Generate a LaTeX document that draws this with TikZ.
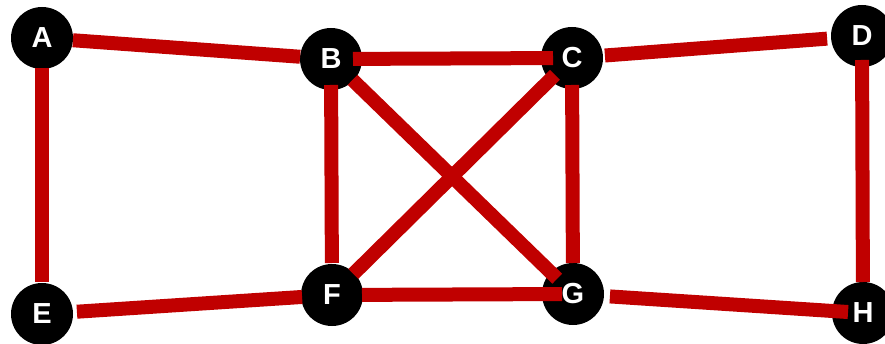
\documentclass[tikz,border=0pt]{standalone}
\usepackage{fontspec}
\setmainfont{Liberation Sans}
\definecolor{edgered}{RGB}{192,0,0}
\begin{document}
\begin{tikzpicture}[x=1pt,y=-1pt,
  vtx/.style={circle,fill=black,minimum size=62pt,inner sep=0pt},
  lbl/.style={text=white,font=\fontsize{29}{29}\selectfont\bfseries,inner sep=0pt},
  link/.style={draw=edgered,line width=14pt}]
\useasboundingbox (0,0) rectangle (885,344);
% vertices (circles)
\node[vtx] (A) at (42,38) {};
\node[vtx] (B) at (331,59) {};
\node[vtx] (C) at (572,58) {};
\node[vtx] (D) at (862,36) {};
\node[vtx] (E) at (42,314) {};
\node[vtx] (F) at (332,295) {};
\node[vtx] (G) at (573,294) {};
\node[vtx] (H) at (863,313) {};
% edges
\draw[link,shorten <=31pt,shorten >=31pt] (A.center) -- (B.center);
\draw[link,shorten <=22pt,shorten >=19pt] (B.center) -- (C.center);
\draw[link,shorten <=33pt,shorten >=35pt] (C.center) -- (D.center);
\draw[link,shorten <=30pt,shorten >=32pt] (A.center) -- (E.center);
\draw[link,shorten <=24pt,shorten >=31pt] (D.center) -- (H.center);
\draw[link,shorten <=35pt,shorten >=30pt] (E.center) -- (F.center);
\draw[link,shorten <=30pt,shorten >=11pt] (F.center) -- (G.center);
\draw[link,shorten <=37pt,shorten >=15pt] (G.center) -- (H.center);
\draw[link,shorten <=26pt,shorten >=32pt] (B.center) -- (F.center);
\draw[link,shorten <=30pt,shorten >=22pt] (B.center) -- (G.center);
\draw[link,shorten <=24pt,shorten >=30pt] (C.center) -- (F.center);
\draw[link,shorten <=27pt,shorten >=31pt] (C.center) -- (G.center);
% labels
\node[lbl] (lA) at (A) {A};
\node[lbl] (lB) at (B) {B};
\node[lbl] (lC) at (C) {C};
\node[lbl] (lD) at (D) {D};
\node[lbl] (lE) at (E) {E};
\node[lbl] (lF) at (F) {F};
\node[lbl] (lG) at (G) {G};
\node[lbl] (lH) at (H) {H};
\end{tikzpicture}
\end{document}
